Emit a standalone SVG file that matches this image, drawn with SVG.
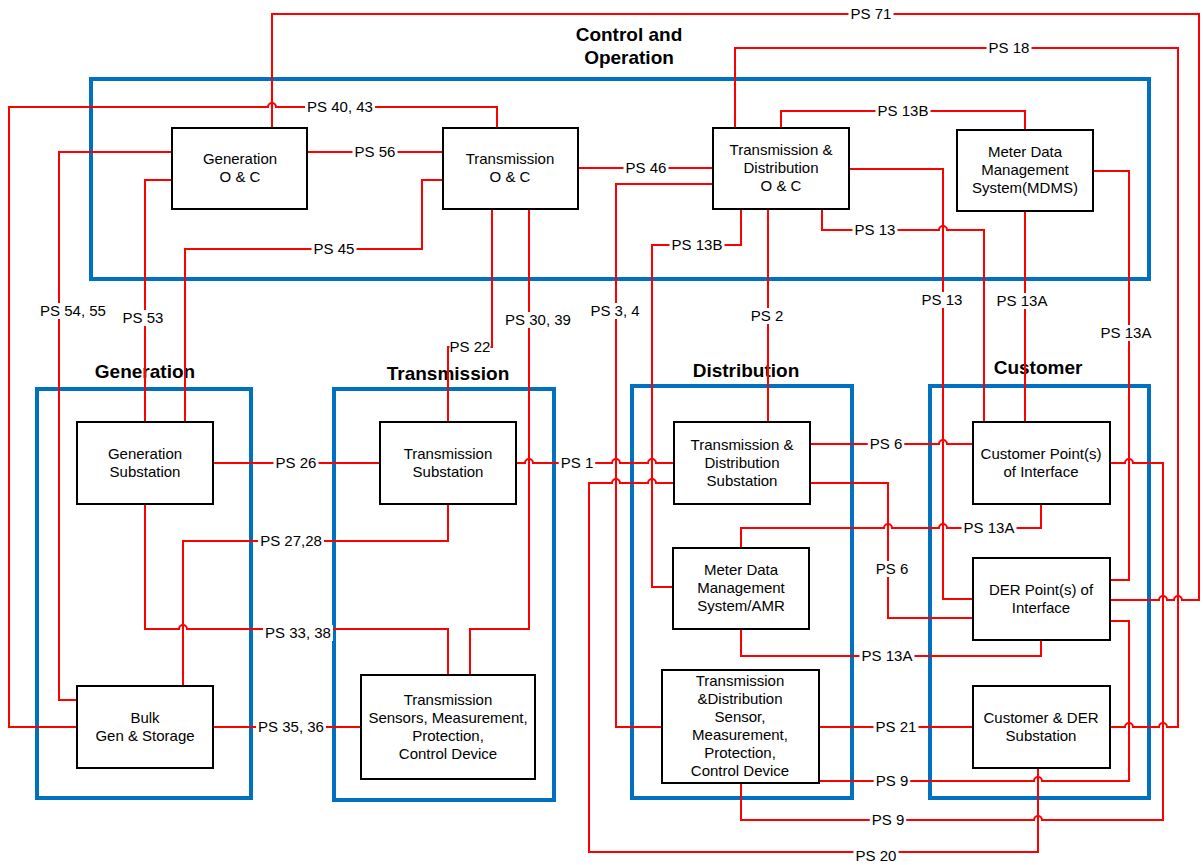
<svg xmlns="http://www.w3.org/2000/svg" width="1203" height="865" viewBox="0 0 1203 865">
<style>
.zone{fill:none;stroke:#0070C0;stroke-width:4}
.title{font-family:"Liberation Sans",Arial,sans-serif;font-size:19px;font-weight:bold;fill:#000;text-anchor:middle}
.box{fill:#fff;stroke:#000;stroke-width:2}
.nt{font-family:"Liberation Sans",Arial,sans-serif;font-size:15px;fill:#000;text-anchor:middle}
.c{fill:none;stroke:#FF0000;stroke-width:2}
.lb{fill:#fff;stroke:none}
.lt{font-family:"Liberation Sans",Arial,sans-serif;font-size:15px;fill:#000;text-anchor:middle}
</style>
<rect width="1203" height="865" fill="#fff"/>
<g id="zones">
<rect class="zone" x="91" y="79" width="1058" height="200"/>
<text class="title" x="629" y="41">Control and</text>
<text class="title" x="629" y="64">Operation</text>
<rect class="zone" x="37" y="389" width="214" height="409"/>
<text class="title" x="145" y="378">Generation</text>
<rect class="zone" x="334" y="389" width="220" height="411"/>
<text class="title" x="448" y="380">Transmission</text>
<rect class="zone" x="632" y="386" width="220" height="412"/>
<text class="title" x="746" y="377">Distribution</text>
<rect class="zone" x="930" y="386" width="219" height="412"/>
<text class="title" x="1038" y="374">Customer</text>
</g>
<g id="connectors">
<path class="c" d="M1110,600 L1159,600 A4,4 0 0 1 1167,600 L1174,600 A4,4 0 0 1 1182,600 L1199,600 L1199,14 L272,14 L272,128"/>
<path class="c" d="M1110,727 L1125,727 A4,4 0 0 1 1133,727 L1159,727 A4,4 0 0 1 1167,727 L1178,727 L1178,48 L735,48 L735,128"/>
<path class="c" d="M77,727 L9,727 L9,107 L268,107 A4,4 0 0 1 276,107 L497,107 L497,128"/>
<path class="c" d="M307,152 L443,152"/>
<path class="c" d="M172,152 L59,152 L59,700 L77,700"/>
<path class="c" d="M172,180 L145,180 L145,422"/>
<path class="c" d="M443,180 L422,180 L422,249 L185,249 L185,422"/>
<path class="c" d="M578,168 L713,168"/>
<path class="c" d="M492,209 L492,347 L448,347 L448,422"/>
<path class="c" d="M529,209 L529,629 L470,629 L470,675"/>
<path class="c" d="M713,184 L616,184 L616,727 L662,727"/>
<path class="c" d="M741,209 L741,245 L652,245 L652,587 L673,587"/>
<path class="c" d="M768,209 L768,422"/>
<path class="c" d="M781,128 L781,111 L1025,111 L1025,130"/>
<path class="c" d="M849,169 L943,169 L943,599 L973,599"/>
<path class="c" d="M822,209 L822,230 L939,230 A4,4 0 0 1 947,230 L984,230 L984,422"/>
<path class="c" d="M1025,211 L1025,422"/>
<path class="c" d="M1093,171 L1129,171 L1129,580 L1110,580"/>
<path class="c" d="M213,463 L380,463"/>
<path class="c" d="M516,463 L525,463 A4,4 0 0 1 533,463 L612,463 A4,4 0 0 1 620,463 L648,463 A4,4 0 0 1 656,463 L674,463"/>
<path class="c" d="M448,504 L448,541 L183,541 L183,686"/>
<path class="c" d="M145,504 L145,629 L179,629 A4,4 0 0 1 187,629 L448,629 L448,675"/>
<path class="c" d="M213,727 L361,727"/>
<path class="c" d="M1038,768 L1038,852 L589,852 L589,483 L612,483 A4,4 0 0 1 620,483 L648,483 A4,4 0 0 1 656,483 L674,483"/>
<path class="c" d="M810,444 L939,444 A4,4 0 0 1 947,444 L973,444"/>
<path class="c" d="M810,483 L888,483 L888,618 L973,618"/>
<path class="c" d="M741,548 L741,528 L884,528 A4,4 0 0 1 892,528 L939,528 A4,4 0 0 1 947,528 L1041,528 L1041,504"/>
<path class="c" d="M741,629 L741,656 L1041,656 L1041,640"/>
<path class="c" d="M819,727 L973,727"/>
<path class="c" d="M819,781 L1034,781 A4,4 0 0 1 1042,781 L1129,781 L1129,621 L1110,621"/>
<path class="c" d="M1110,463 L1125,463 A4,4 0 0 1 1133,463 L1163,463 L1163,820 L1042,820 A4,4 0 0 0 1034,820 L741,820 L741,783"/>
<g id="labels">
<rect class="lb" x="848.5" y="6" width="45" height="16"/><text class="lt" x="871" y="19">PS 71</text>
<rect class="lb" x="986.5" y="40" width="45" height="16"/><text class="lt" x="1009" y="53">PS 18</text>
<rect class="lb" x="305" y="99" width="70" height="16"/><text class="lt" x="340" y="112">PS 40, 43</text>
<rect class="lb" x="352.5" y="144" width="45" height="16"/><text class="lt" x="375" y="157">PS 56</text>
<rect class="lb" x="38" y="303" width="70" height="16"/><text class="lt" x="73" y="316">PS 54, 55</text>
<rect class="lb" x="120.5" y="310" width="45" height="16"/><text class="lt" x="143" y="323">PS 53</text>
<rect class="lb" x="311.5" y="241" width="45" height="16"/><text class="lt" x="334" y="254">PS 45</text>
<rect class="lb" x="623.5" y="160" width="45" height="16"/><text class="lt" x="646" y="173">PS 46</text>
<rect class="lb" x="449.5" y="339" width="41" height="16"/><text class="lt" x="470" y="352">PS 22</text>
<rect class="lb" x="503" y="312" width="70" height="16"/><text class="lt" x="538" y="325">PS 30, 39</text>
<rect class="lb" x="588.5" y="303" width="53" height="16"/><text class="lt" x="615" y="316">PS 3, 4</text>
<rect class="lb" x="669.5" y="237" width="55" height="16"/><text class="lt" x="697" y="250">PS 13B</text>
<rect class="lb" x="749" y="308" width="36.5" height="16"/><text class="lt" x="767" y="321">PS 2</text>
<rect class="lb" x="875.5" y="103" width="55" height="16"/><text class="lt" x="903" y="116">PS 13B</text>
<rect class="lb" x="919.5" y="292" width="45" height="16"/><text class="lt" x="942" y="305">PS 13</text>
<rect class="lb" x="852.5" y="222" width="45" height="16"/><text class="lt" x="875" y="235">PS 13</text>
<rect class="lb" x="994.5" y="293" width="55" height="16"/><text class="lt" x="1022" y="306">PS 13A</text>
<rect class="lb" x="1098.5" y="325" width="55" height="16"/><text class="lt" x="1126" y="338">PS 13A</text>
<rect class="lb" x="273.5" y="455" width="45" height="16"/><text class="lt" x="296" y="468">PS 26</text>
<rect class="lb" x="558.75" y="455" width="36.5" height="16"/><text class="lt" x="577" y="468">PS 1</text>
<rect class="lb" x="258" y="533" width="66" height="16"/><text class="lt" x="291" y="546">PS 27,28</text>
<rect class="lb" x="263" y="625" width="70" height="16"/><text class="lt" x="298" y="638">PS 33, 38</text>
<rect class="lb" x="256" y="719" width="70" height="16"/><text class="lt" x="291" y="732">PS 35, 36</text>
<rect class="lb" x="853.5" y="848" width="45" height="16"/><text class="lt" x="876" y="861">PS 20</text>
<rect class="lb" x="867.75" y="436" width="36.5" height="16"/><text class="lt" x="886" y="449">PS 6</text>
<rect class="lb" x="873.75" y="561" width="36.5" height="16"/><text class="lt" x="892" y="574">PS 6</text>
<rect class="lb" x="961.5" y="520" width="55" height="16"/><text class="lt" x="989" y="533">PS 13A</text>
<rect class="lb" x="859.5" y="648" width="55" height="16"/><text class="lt" x="887" y="661">PS 13A</text>
<rect class="lb" x="873.5" y="719" width="45" height="16"/><text class="lt" x="896" y="732">PS 21</text>
<rect class="lb" x="873.75" y="773" width="36.5" height="16"/><text class="lt" x="892" y="786">PS 9</text>
<rect class="lb" x="869.75" y="812" width="36.5" height="16"/><text class="lt" x="888" y="825">PS 9</text>
</g>
</g>
<g id="gen-oc"><rect class="box" x="172" y="128" width="135" height="81"/><text class="nt" x="240" y="164">Generation</text><text class="nt" x="240" y="182">O &amp; C</text></g>
<g id="trans-oc"><rect class="box" x="443" y="128" width="135" height="81"/><text class="nt" x="510" y="164">Transmission</text><text class="nt" x="510" y="182">O &amp; C</text></g>
<g id="td-oc"><rect class="box" x="713" y="128" width="136" height="81"/><text class="nt" x="781" y="155">Transmission &amp;</text><text class="nt" x="781" y="173">Distribution</text><text class="nt" x="781" y="191">O &amp; C</text></g>
<g id="mdms"><rect class="box" x="957" y="130" width="136" height="81"/><text class="nt" x="1025" y="157">Meter Data</text><text class="nt" x="1025" y="175">Management</text><text class="nt" x="1025" y="193">System(MDMS)</text></g>
<g id="gen-sub"><rect class="box" x="77" y="422" width="136" height="82"/><text class="nt" x="145" y="459">Generation</text><text class="nt" x="145" y="477">Substation</text></g>
<g id="trans-sub"><rect class="box" x="380" y="422" width="136" height="82"/><text class="nt" x="448" y="459">Transmission</text><text class="nt" x="448" y="477">Substation</text></g>
<g id="td-sub"><rect class="box" x="674" y="422" width="136" height="82"/><text class="nt" x="742" y="450">Transmission &amp;</text><text class="nt" x="742" y="468">Distribution</text><text class="nt" x="742" y="486">Substation</text></g>
<g id="cust-poi"><rect class="box" x="973" y="422" width="137" height="82"/><text class="nt" x="1041" y="459">Customer Point(s)</text><text class="nt" x="1041" y="477">of Interface</text></g>
<g id="mdms-amr"><rect class="box" x="673" y="548" width="136" height="81"/><text class="nt" x="741" y="575">Meter Data</text><text class="nt" x="741" y="593">Management</text><text class="nt" x="741" y="611">System/AMR</text></g>
<g id="der-poi"><rect class="box" x="973" y="558" width="137" height="82"/><text class="nt" x="1041" y="595">DER Point(s) of</text><text class="nt" x="1041" y="613">Interface</text></g>
<g id="bulk-gen"><rect class="box" x="77" y="686" width="136" height="82"/><text class="nt" x="145" y="723">Bulk</text><text class="nt" x="145" y="741">Gen &amp; Storage</text></g>
<g id="trans-sensors"><rect class="box" x="361" y="675" width="174" height="104"/><text class="nt" x="448" y="705">Transmission</text><text class="nt" x="448" y="723">Sensors, Measurement,</text><text class="nt" x="448" y="741">Protection,</text><text class="nt" x="448" y="759">Control Device</text></g>
<g id="td-sensors"><rect class="box" x="662" y="670" width="157" height="113"/><text class="nt" x="740" y="686">Transmission</text><text class="nt" x="740" y="704">&amp;Distribution</text><text class="nt" x="740" y="722">Sensor,</text><text class="nt" x="740" y="740">Measurement,</text><text class="nt" x="740" y="758">Protection,</text><text class="nt" x="740" y="776">Control Device</text></g>
<g id="cust-der-sub"><rect class="box" x="973" y="686" width="137" height="82"/><text class="nt" x="1041" y="723">Customer &amp; DER</text><text class="nt" x="1041" y="741">Substation</text></g>
</svg>
